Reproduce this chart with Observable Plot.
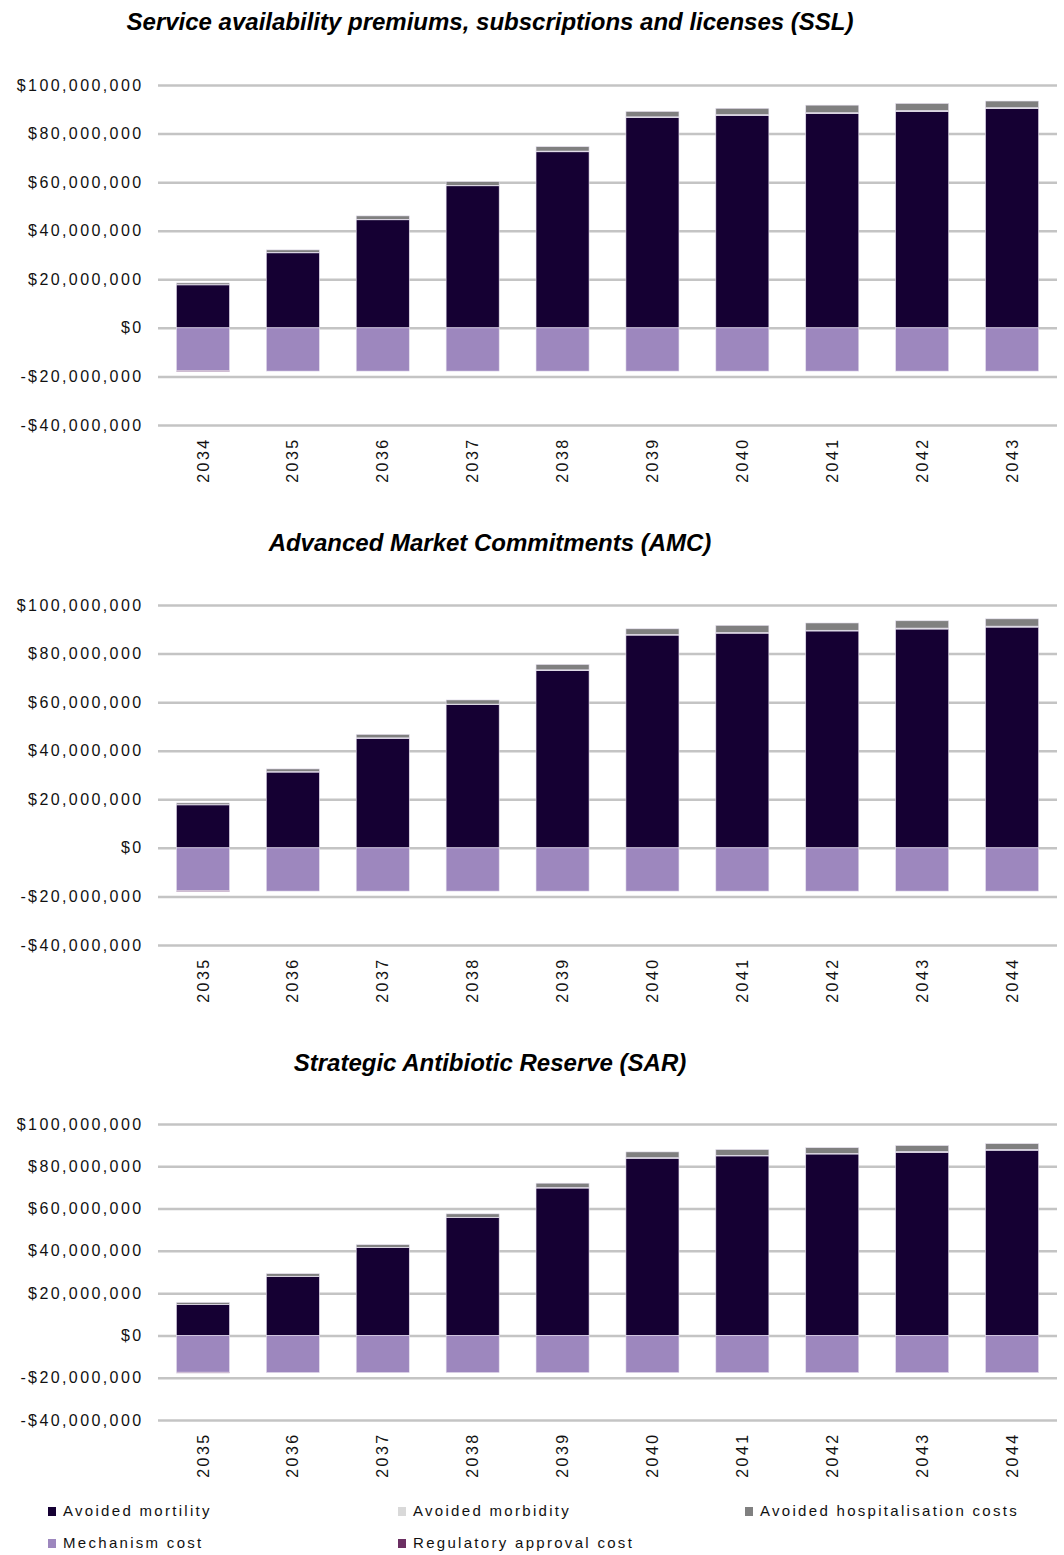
<!DOCTYPE html>
<html>
<head>
<meta charset="utf-8">
<script src="https://cdn.jsdelivr.net/npm/d3@7"></script>
<script src="https://cdn.jsdelivr.net/npm/@observablehq/plot@0.6"></script>
<style>
  body { margin: 0; background: #fff; width: 1064px; height: 1555px; position: relative; overflow: hidden; font-family: "Liberation Sans", Arial, sans-serif; }
  .title { position: absolute; left: 0; width: 980px; text-align: center; font-weight: bold; font-style: italic; font-size: 24px; line-height: 28px; color: #000; white-space: nowrap; }
  .panel { position: absolute; left: 0; }
  .leg { position: absolute; font-size: 15px; letter-spacing: 2.3px; color: #111; line-height: 18px; white-space: nowrap; }
  .sw { position: absolute; width: 8px; height: 9px; }
</style>
</head>
<body>
<script>
// ---- data (values in $ millions) ----
const seriesNames = ["Avoided mortility", "Avoided morbidity", "Avoided hospitalisation costs", "Mechanism cost", "Regulatory approval cost"];
const seriesColors = ["#150033", "#d9d9d9", "#808080", "#9d87be", "#6b2f62"];

const titles = [
  "Service availability premiums, subscriptions and licenses (SSL)",
  "Advanced Market Commitments (AMC)",
  "Strategic Antibiotic Reserve (SAR)"
];

const sslYears = ["2034","2035","2036","2037","2038","2039","2040","2041","2042","2043"];
const sslMortality = [17.7, 30.9, 44.5, 58.5, 72.5, 86.6, 87.5, 88.3, 89.1, 90.3];
const sslMorbidity = [0.1, 0.2, 0.2, 0.2, 0.3, 0.3, 0.3, 0.3, 0.4, 0.4];
const sslHospital  = [0.7, 1.0, 1.4, 1.5, 1.8, 2.2, 2.6, 3.1, 2.9, 2.7];
const sslMechanism = [-17.6, -17.8, -17.8, -17.8, -17.8, -17.8, -17.8, -17.8, -17.8, -17.8];
const sslRegulatory = [-0.4, 0, 0, 0, 0, 0, 0, 0, 0, 0];

const amcYears = ["2035","2036","2037","2038","2039","2040","2041","2042","2043","2044"];
const amcMortality = [17.7, 31.2, 45.1, 59.0, 73.0, 87.6, 88.4, 89.3, 90.1, 90.9];
const amcMorbidity = [0.1, 0.2, 0.2, 0.2, 0.3, 0.3, 0.3, 0.3, 0.4, 0.4];
const amcHospital  = [0.7, 1.1, 1.4, 1.7, 2.2, 2.3, 2.9, 3.0, 3.0, 3.0];
const amcMechanism = [-17.6, -17.8, -17.8, -17.8, -17.8, -17.8, -17.8, -17.8, -17.8, -17.8];
const amcRegulatory = [-0.4, 0, 0, 0, 0, 0, 0, 0, 0, 0];

const sarYears = ["2035","2036","2037","2038","2039","2040","2041","2042","2043","2044"];
const sarMortality = [14.6, 27.8, 41.5, 55.7, 69.7, 83.8, 84.9, 85.8, 86.6, 87.6];
const sarMorbidity = [0.1, 0.2, 0.2, 0.2, 0.3, 0.3, 0.3, 0.3, 0.4, 0.4];
const sarHospital  = [0.9, 1.2, 1.2, 1.6, 2.0, 2.7, 2.7, 2.7, 2.8, 2.7];
const sarMechanism = [-17.4, -17.6, -17.6, -17.6, -17.6, -17.6, -17.6, -17.6, -17.6, -17.6];
const sarRegulatory = [-0.4, 0, 0, 0, 0, 0, 0, 0, 0, 0];

const yTicks = [-40e6, -20e6, 0, 20e6, 40e6, 60e6, 80e6, 100e6];

const fmt = d => (d < 0 ? "-" : "") + "$" + d3.format(",")(Math.abs(d));

function build(years, series) {
  const rows = [];
  years.forEach((y, i) => {
    series.forEach((arr, k) => rows.push({year: y, series: seriesNames[k], value: arr[i] * 1e6}));
  });
  return rows;
}

function addTitle(text, centerY) {
  const t = document.createElement("div");
  t.className = "title";
  t.style.top = (centerY - 14) + "px";
  t.textContent = text;
  document.body.appendChild(t);
}

function addPanel(years, series, plotTop, plotH) {
  const mt = 10, mb = 75;
  const chart = Plot.plot({
    width: 1064,
    height: mt + plotH + mb,
    marginTop: mt,
    marginBottom: mb,
    marginLeft: 158,
    marginRight: 7,
    style: {fontFamily: "Liberation Sans, Arial, sans-serif", fontSize: "16px", letterSpacing: "2.4px", color: "#111", background: "transparent"},
    x: {type: "band", domain: years, round: false, paddingInner: 0.41, paddingOuter: 0.205, label: null, tickRotate: -90, tickSize: 0, tickPadding: 12},
    y: {domain: [-40e6, 100e6], ticks: yTicks, tickFormat: fmt, label: null, tickSize: 0, tickPadding: 15},
    color: {domain: seriesNames, range: seriesColors},
    marks: [
      Plot.gridY(yTicks, {stroke: "#c4c4c4", strokeOpacity: 1, strokeWidth: 2.5}),
      Plot.barY(build(years, series), {x: "year", y: "value", fill: "series", stroke: "#e6e0ef", strokeWidth: 0.6})
    ]
  });
  chart.classList.add("panel");
  chart.style.top = (plotTop - mt) + "px";
  document.body.appendChild(chart);
}

addTitle(titles[0], 22);
addPanel(sslYears, [sslMortality, sslMorbidity, sslHospital, sslMechanism, sslRegulatory], 85, 340);
addTitle(titles[1], 543);
addPanel(amcYears, [amcMortality, amcMorbidity, amcHospital, amcMechanism, amcRegulatory], 605, 340);
addTitle(titles[2], 1063);
addPanel(sarYears, [sarMortality, sarMorbidity, sarHospital, sarMechanism, sarRegulatory], 1124, 296);

// legend
const legendPos = [
  [48, 1511], [398, 1511], [745, 1511],
  [48, 1543], [398, 1543]
];
seriesNames.forEach((name, i) => {
  const [x, y] = legendPos[i];
  const sw = document.createElement("div");
  sw.className = "sw";
  sw.style.left = x + "px";
  sw.style.top = (y - 4) + "px";
  sw.style.background = seriesColors[i];
  document.body.appendChild(sw);
  const lab = document.createElement("div");
  lab.className = "leg";
  lab.style.left = (x + 15) + "px";
  lab.style.top = (y - 9) + "px";
  lab.textContent = name;
  document.body.appendChild(lab);
});
</script>
</body>
</html>
